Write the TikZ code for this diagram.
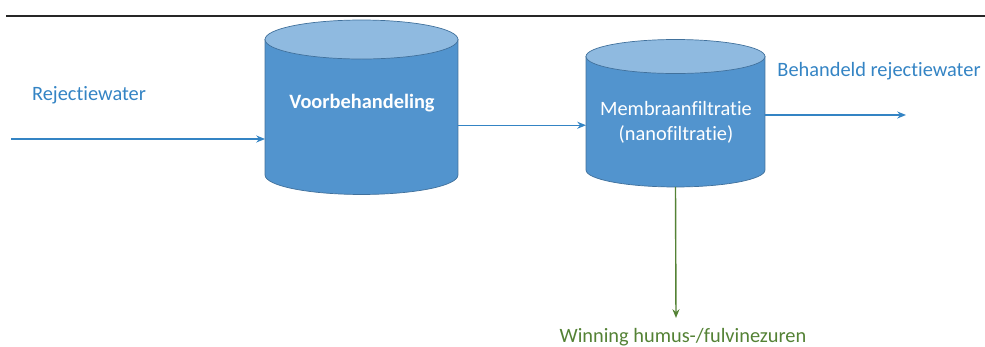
\documentclass[tikz,border=0pt]{standalone}
\usepackage{fontspec}
\setmainfont[Ligatures=NoCommon]{Carlito}
\usetikzlibrary{arrows.meta,calc}

\definecolor{cylside}{RGB}{82,148,206}
\definecolor{cyltop}{RGB}{143,186,224}
\definecolor{cylline}{RGB}{65,113,156}
\definecolor{labelblue}{RGB}{52,132,196}
\definecolor{labelgreen}{RGB}{84,130,53}

\tikzset{
    cylbox/.style={inner sep=0pt, outer sep=0pt},
    cyltext/.style={text=white, align=center, font=\fontsize{11.6}{14.2}\selectfont},
    flow/.style={draw=labelblue, line width=0.8pt, -{Stealth[length=5pt,width=4pt]}},
    flowg/.style={draw=labelgreen, line width=0.8pt, -{Stealth[length=5pt,width=4pt]}},
    flowlabel/.style={text=labelblue, font=\fontsize{11.6}{14}\selectfont},
}

\begin{document}
\begin{tikzpicture}[x=0.02cm, y=-0.02cm]
    \useasboundingbox (0,0) rectangle (985,347);

    % Top rule
    \draw[line width=1pt, black!85] (6,16) -- (985,16);

    % Cylinder bodies
    \node[cylbox, minimum width=3.86cm, minimum height=2.71cm] (vb) at (361.5,107.25) {};
    \node[cylbox, minimum width=3.58cm, minimum height=2.27cm] (mf) at (675.5,113.25) {};

    \path[fill=cylside, draw=cylline, line width=0.4pt] (vb.north west) -- (vb.south west)
        arc[start angle=180, end angle=360, x radius=1.93cm, y radius=0.39cm] -- (vb.north east) -- cycle;
    \draw[fill=cyltop, draw=cylline, line width=0.4pt] (vb.north) ellipse[x radius=1.93cm, y radius=0.39cm];

    \path[fill=cylside, draw=cylline, line width=0.4pt] (mf.north west) -- (mf.south west)
        arc[start angle=180, end angle=360, x radius=1.79cm, y radius=0.34cm] -- (mf.north east) -- cycle;
    \draw[fill=cyltop, draw=cylline, line width=0.4pt] (mf.north) ellipse[x radius=1.79cm, y radius=0.34cm];

    % Texts in the cylinders
    \node[cyltext, font=\fontsize{11.6}{14.2}\selectfont\bfseries] (vbtxt) at (362,103) {Voorbehandeling};
    \node[cyltext] (mftxt) at (676,122.5) {Membraanfiltratie\\(nanofiltratie)};

    % Flows
    \coordinate (rin) at (11,139);
    \coordinate (rout) at (906,115);
    \coordinate (humus) at (676,318);
    \draw[flow] (rin) -- (rin -| vb.west);
    \draw[flow] ([yshift=-0.36cm]vb.east) -- ([yshift=-0.36cm]vb.east -| mf.west);
    \draw[flow] (mf.east |- rout) -- (rout);
    \draw[flowg] ([yshift=-0.34cm]mf.south) -- (humus);

    % Labels
    \node[flowlabel] (lin) at (89,95) {Rejectiewater};
    \node[flowlabel] (lout) at (879,71) {Behandeld rejectiewater};
    \node[flowlabel, text=labelgreen] (lhumus) at (683,337) {Winning humus-/fulvinezuren};
\end{tikzpicture}
\end{document}
